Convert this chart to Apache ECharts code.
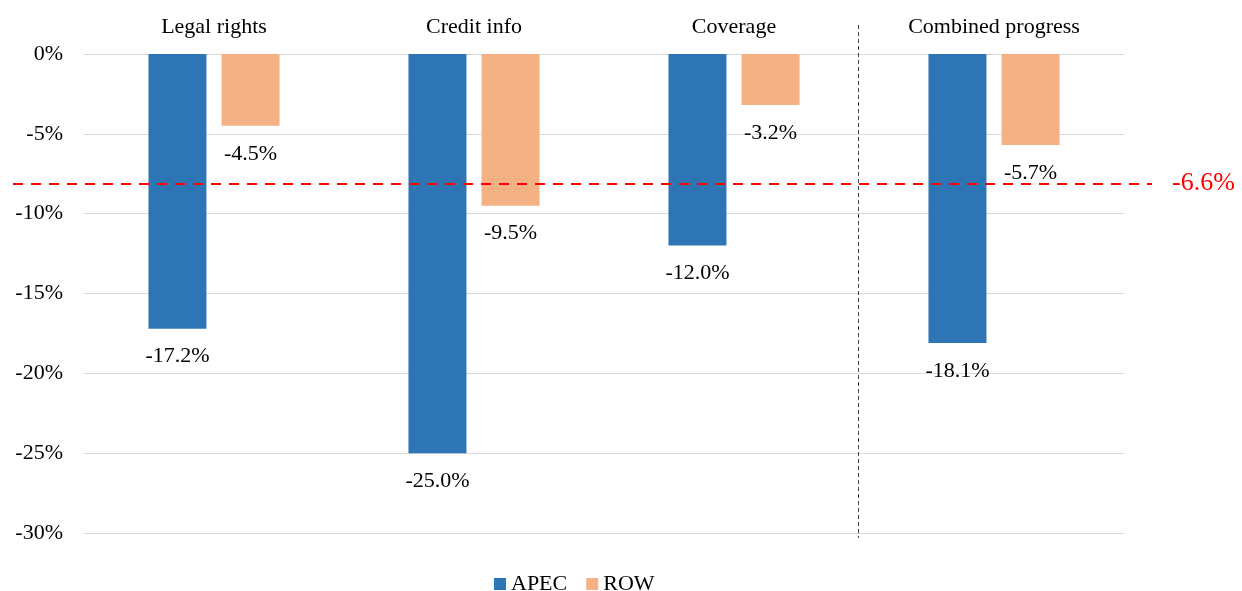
<!DOCTYPE html>
<html>
<head>
<meta charset="utf-8">
<script src="https://cdn.jsdelivr.net/npm/echarts@6/dist/echarts.min.js"></script>
<style>
  html, body { margin: 0; padding: 0; background: #fff; }
  #chart { width: 1242px; height: 591px; }
</style>
</head>
<body>
<div id="chart"></div>
<script>
// categories and values (percent)
var categories = ['Legal rights', 'Credit info', 'Coverage', 'Combined progress'];
var apecValues = [-17.2, -25.0, -12.0, -18.1];
var rowValues = [-4.5, -9.5, -3.2, -5.7];
// reference line: drawn position and its printed label
var refLinePos = -8.1;
var refLineLabel = '-6.6%';

var serif = "'Liberation Serif', 'Times New Roman', serif";

var chart = echarts.init(document.getElementById('chart'));

function pctLabel(p) {
  return p.value.toFixed(1) + '%';
}

var option = {
  animation: false,
  backgroundColor: '#fff',
  grid: {
    left: 84,
    right: 118,
    top: 54,
    bottom: 58,
    containLabel: false
  },
  legend: {
    data: ['APEC', 'ROW'],
    left: 489,
    top: 568,
    icon: 'rect',
    itemWidth: 12,
    itemHeight: 12,
    itemGap: 19,
    textStyle: { fontFamily: serif, fontSize: 22, color: '#000' }
  },
  xAxis: {
    type: 'category',
    position: 'top',
    data: categories,
    axisLine: { show: false },
    axisTick: { show: false },
    axisLabel: {
      margin: 16,
      color: '#000',
      fontFamily: serif,
      fontSize: 22
    }
  },
  yAxis: {
    type: 'value',
    min: -30,
    max: 0,
    interval: 5,
    axisLine: { show: false },
    axisTick: { show: false },
    splitLine: { lineStyle: { color: '#d9d9d9', width: 1 } },
    axisLabel: {
      margin: 21,
      color: '#000',
      fontFamily: serif,
      fontSize: 22,
      formatter: '{value}%'
    }
  },
  series: [
    {
      name: 'APEC',
      type: 'bar',
      data: apecValues,
      barWidth: 58,
      barGap: '26%',
      itemStyle: { color: '#2e75b6' },
      label: {
        show: true,
        position: 'bottom',
        distance: 17,
        color: '#000',
        fontFamily: serif,
        fontSize: 22,
        formatter: pctLabel
      },
      markLine: {
        silent: true,
        symbol: ['none', 'none'],
        data: [
          [
            { x: 13, yAxis: refLinePos },
            { x: 1152, yAxis: refLinePos }
          ],
          [
            { x: 858, y: 25, lineStyle: { color: '#404040', type: [4, 3], width: 1 }, label: { show: false } },
            { x: 858, y: 538 }
          ]
        ],
        lineStyle: { color: '#ff0000', type: [10, 8], width: 2 },
        label: {
          show: true,
          position: 'end',
          distance: 20,
          color: '#ff0000',
          fontFamily: serif,
          fontSize: 26,
          formatter: refLineLabel
        }
      }
    },
    {
      name: 'ROW',
      type: 'bar',
      data: rowValues,
      barWidth: 58,
      itemStyle: { color: '#f4b183' },
      label: {
        show: true,
        position: 'bottom',
        distance: 17,
        color: '#000',
        fontFamily: serif,
        fontSize: 22,
        formatter: pctLabel
      }
    }
  ]
};

chart.setOption(option);
</script>
</body>
</html>
